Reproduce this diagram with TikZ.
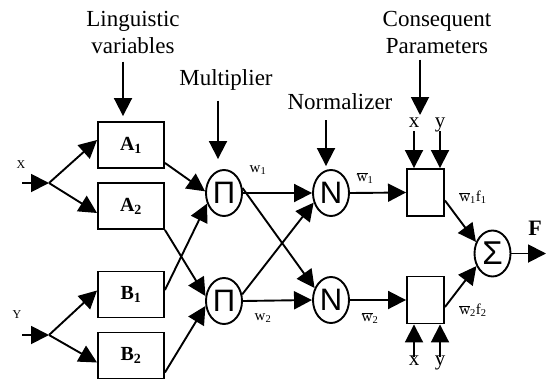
\documentclass[tikz,border=0pt]{standalone}
\usepackage{fontspec}
\setmainfont{Liberation Serif}
\newfontfamily\opfont{Liberation Sans}
\usetikzlibrary{arrows.meta,shapes.geometric}

\newcommand{\wbar}[1]{$\overline{\mbox{w}}$\textsubscript{#1}}

\tikzset{
    mfbox/.style={draw, minimum width=66pt, minimum height=46pt, inner sep=0pt,
        font=\fontsize{20}{20}\selectfont\bfseries},
    opnode/.style={draw, ellipse, minimum width=36pt, minimum height=46pt, inner sep=0pt,
        font=\opfont\fontsize{31}{31}\selectfont},
    conbox/.style={draw, minimum width=37pt, minimum height=47pt, inner sep=0pt},
    heading/.style={align=center, font=\fontsize{23}{27}\selectfont},
    varlabel/.style={font=\fontsize{21}{21}\selectfont, text height=1.5ex, text depth=0.3ex, inner sep=1pt},
    smalllabel/.style={font=\fontsize{15}{15}\selectfont},
    inlabel/.style={font=\fontsize{12}{12}\selectfont},
    arr/.style={-{Triangle[length=18pt,width=18pt]}},
}

\begin{document}
\begin{tikzpicture}[x=1pt, y=-1pt, line width=1.9pt]
            \useasboundingbox (0,0) rectangle (548,380);

            \node[heading] (lingtext) at (133,32) {Linguistic\\variables};
            \node[heading] (multtext) at (226,80) {Multiplier};
            \node[heading] (normtext) at (340,102) {Normalizer};
            \node[heading] (context) at (437,32) {Consequent\\Parameters};

            \node[mfbox] (A1) at (131,145) {A\textsubscript{1}};
            \node[mfbox] (A2) at (131,206) {A\textsubscript{2}};
            \node[mfbox] (B1) at (131,294.5) {B\textsubscript{1}};
            \node[mfbox] (B2) at (131,355.5) {B\textsubscript{2}};

            \node[opnode] (Pi1) at (224,193) {Π};
            \node[opnode] (Pi2) at (224,301) {Π};
            \node[opnode] (N1) at (331,193) {N};
            \node[opnode] (N2) at (331,300) {N};
            \node[conbox] (C1) at (425.5,192.5) {};
            \node[conbox] (C2) at (425.5,300) {};
            \node[opnode, font=\opfont\fontsize{33}{33}\selectfont] (Sum) at (492.5,253.5) {Σ};

            \node[inlabel] (xlab) at (21,165) {X};
            \node[inlabel] (ylab) at (17,315) {Y};
            \node[smalllabel] (w1) at (258,170) {w\textsubscript{1}};
            \node[smalllabel] (w2) at (263,318) {w\textsubscript{2}};
            \node[smalllabel] (wn1) at (365,178) {\wbar{1}};
            \node[smalllabel] (wn2) at (370,318) {\wbar{2}};
            \node[smalllabel] (wf1) at (473,197) {\wbar{1}f\textsubscript{1}};
            \node[smalllabel] (wf2) at (473,310) {\wbar{2}f\textsubscript{2}};
            \node[font=\fontsize{22}{22}\selectfont\bfseries] (Flab) at (535,228) {F};

            \node[varlabel] (cx1) at (414,125) {x};
            \node[varlabel] (cy1) at (440,125) {y};
            \node[varlabel] (cx2) at (414,363) {x};
            \node[varlabel] (cy2) at (440,363) {y};

            \coordinate (xin) at (22,183);
            \coordinate (xfork) at (49,183);
            \coordinate (yin) at (22,335);
            \coordinate (yfork) at (49,335);
            \coordinate (paramtip) at (420,115);
            \coordinate (Fout) at (546,253.5);

            \draw[arr, shorten <=4pt, shorten >=5pt] ([xshift=-10pt]lingtext.south) -- ([xshift=-8pt]A1.north);
            \draw[arr, shorten <=6pt, shorten >=10pt] ([xshift=-8pt]multtext.south) -- ([xshift=-6pt]Pi1.north);
            \draw[arr, shorten <=6pt, shorten >=3pt] ([xshift=-14pt]normtext.south) -- ([xshift=-5pt]N1.north);
            \draw[arr, shorten <=2pt] ([xshift=-17pt]context.south) -- (paramtip);

            \draw[arr] (cx1.south) -- ([xshift=-11.5pt]C1.north);
            \draw[arr] (cy1.south) -- ([xshift=14.5pt]C1.north);
            \draw[arr] (cx2.north) -- ([xshift=-11.5pt]C2.south);
            \draw[arr] (cy2.north) -- ([xshift=14.5pt]C2.south);

            \draw[arr] (xin) -- (xfork);
            \draw[arr] (xfork) -- ([yshift=5pt]A1.west);
            \draw[arr] (xfork) -- ([yshift=-7pt]A2.west);
            \draw[arr] (yin) -- (yfork);
            \draw[arr] (yfork) -- ([yshift=4pt]B1.west);
            \draw[arr] (yfork) -- ([yshift=-7pt]B2.west);

            \draw[arr] ([yshift=6pt]A1.south east) -- (Pi1.175);
            \draw[arr] ([yshift=4.5pt]B1.east) -- (Pi1.212);
            \draw[arr] (A2.south east) -- (Pi2.165);
            \draw[arr] ([yshift=7pt]B2.south east) -- (Pi2.195);

            \draw[arr] (Pi1.east) -- (N1.west);
            \draw[arr] (Pi1.15) -- (N2.144);
            \draw[arr] (Pi2.20) -- (N1.209);
            \draw[arr] (Pi2.east) -- (N2.west);

            \draw[arr] (N1.east) -- (C1.west);
            \draw[arr] (N2.east) -- (C2.west);
            \draw[arr] ([yshift=-8pt]C1.east) -- (Sum.145);
            \draw[arr] ([yshift=-7pt]C2.east) -- (Sum.218);
            \draw[arr] (Sum.east) -- (Fout);
        \end{tikzpicture}
\end{document}
